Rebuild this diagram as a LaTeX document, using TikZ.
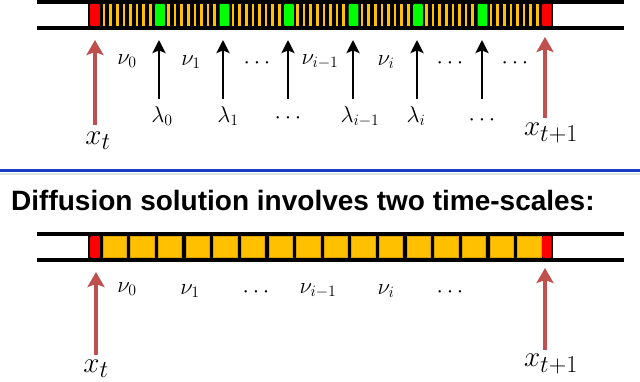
\documentclass[tikz,border=0pt]{standalone}
\usepackage{graphicx}
\usepackage{fontspec}
\newfontfamily\titlefont{Liberation Sans}
\usetikzlibrary{arrows.meta}
\definecolor{cellyellow}{HTML}{FFC000}
\definecolor{cellgreen}{HTML}{00FF00}
\definecolor{cellred}{HTML}{FF0000}
\definecolor{arrred}{HTML}{C0504D}
\definecolor{rulblue}{HTML}{1A3CC4}
\newcommand{\bigmath}[1]{\scalebox{1.17}{$#1$}}
\newcommand{\labmath}[1]{\scalebox{1.1}{$#1$}}
\tikzset{
  barline/.style={line width=3.5pt, line cap=butt},
  redarrow/.style={arrred, line width=3.5pt, -{Stealth[width=17pt,length=15pt,inset=3pt]}},
  blkarrow/.style={black, line width=2.5pt, -{Stealth[width=13pt,length=13pt,inset=2.5pt]}},
  lab/.style={inner sep=0pt, font=\fontsize{20.74}{24}\selectfont},
  xlab/.style={inner sep=0pt, font=\fontsize{24.88}{28}\selectfont},
}
\begin{document}
\begin{tikzpicture}[x=1pt,y=-1pt]
\useasboundingbox (0,0) rectangle (640,382);
% ---------------- top bar ----------------
\fill[black] (88,2) rectangle (553,28);
\draw[barline] (37,2) -- (624,2);
\draw[barline] (37,28) -- (624,28);
\fill[cellred, rounded corners=1pt] (90,4) rectangle (99.8,26);
\fill[cellred, rounded corners=1pt] (542,4) rectangle (551.5,26);
\foreach \k in {0,...,6}{
  \foreach \j in {0,...,7}{
    \fill[cellyellow] ({100+64.5*\k+2.7+6.6*\j},4) rectangle ++(2.6,22);
  }
}
\foreach \k in {0,...,5}{
  \fill[cellgreen, rounded corners=1pt] ({155+64.5*\k},4) rectangle ++(9.8,22);
}
% arrows top
\coordinate (tlA) at (95,125); \coordinate (tlB) at (95,40);
\coordinate (trA) at (545,118); \coordinate (trB) at (545,37);
\draw[redarrow] (tlA) -- (tlB);
\draw[redarrow] (trA) -- (trB);
\foreach \n/\x in {a/159,b/223,c/288,d/353,e/417,f/482}{
  \coordinate (\n0) at (\x,99); \coordinate (\n1) at (\x,40);
  \draw[blkarrow] (\n0) -- (\n1);
}
% labels top
\node[xlab] (xt1) at (98,141) {\bigmath{x_t}};
\node[xlab] (xtp1) at (551,133) {\bigmath{x_{t+1}}};
\node[lab] (nu0) at (127,61) {\labmath{\nu_0}};
\node[lab] (nu1) at (191,62) {\labmath{\nu_1}};
\node[lab] (nd1) at (257,63) {\labmath{\cdots}};
\node[lab] (nuim) at (320,62) {\labmath{\nu_{i-1}}};
\node[lab] (nui) at (386,62) {\labmath{\nu_i}};
\node[lab] (nd2) at (450,63) {\labmath{\cdots}};
\node[lab] (nd3) at (515,63) {\labmath{\cdots}};
\node[lab] (la0) at (162,116) {\labmath{\lambda_0}};
\node[lab] (la1) at (228,116) {\labmath{\lambda_1}};
\node[lab] (ld1) at (288,118) {\labmath{\cdots}};
\node[lab] (laim) at (360,117) {\labmath{\lambda_{i-1}}};
\node[lab] (lai) at (416,116) {\labmath{\lambda_i}};
\node[lab] (ld2) at (482,120) {\labmath{\cdots}};
% ---------------- separator ----------------
\draw[black!12, line width=2pt] (0,174) -- (640,174);
\draw[rulblue, line width=3pt] (0,171) -- (640,171);
\node[anchor=base west, inner sep=0pt, font=\titlefont\bfseries\fontsize{28}{31}\selectfont] (title) at (11,211) {Diffusion solution involves two time-scales:};
% ---------------- bottom bar ----------------
\fill[black] (88,234) rectangle (553,260);
\draw[barline] (37,234) -- (624,234);
\draw[barline] (37,260) -- (624,260);
\fill[cellred, rounded corners=1.5pt] (90,236) rectangle (99.8,258);
\fill[cellred, rounded corners=1.5pt] (542,236) rectangle (551.5,258);
\foreach \i in {0,...,15}{
  \fill[cellyellow, draw=cellyellow!85!black, line width=0.4pt] ({100+27.625*\i+3},236.3) rectangle ++(23.4,21.4);
}
\coordinate (blA) at (96,355); \coordinate (blB) at (96,272);
\coordinate (brA) at (545,350); \coordinate (brB) at (545,268);
\draw[redarrow] (blA) -- (blB);
\draw[redarrow] (brA) -- (brB);
\node[xlab] (xt2) at (96,369) {\bigmath{x_t}};
\node[xlab] (xtp2) at (551,364) {\bigmath{x_{t+1}}};
\node[lab] (bnu0) at (127,289) {\labmath{\nu_0}};
\node[lab] (bnu1) at (190,291) {\labmath{\nu_1}};
\node[lab] (bnd1) at (256,292) {\labmath{\cdots}};
\node[lab] (bnuim) at (318,291) {\labmath{\nu_{i-1}}};
\node[lab] (bnui) at (386,291) {\labmath{\nu_i}};
\node[lab] (bnd2) at (450,292) {\labmath{\cdots}};
\end{tikzpicture}
\end{document}
